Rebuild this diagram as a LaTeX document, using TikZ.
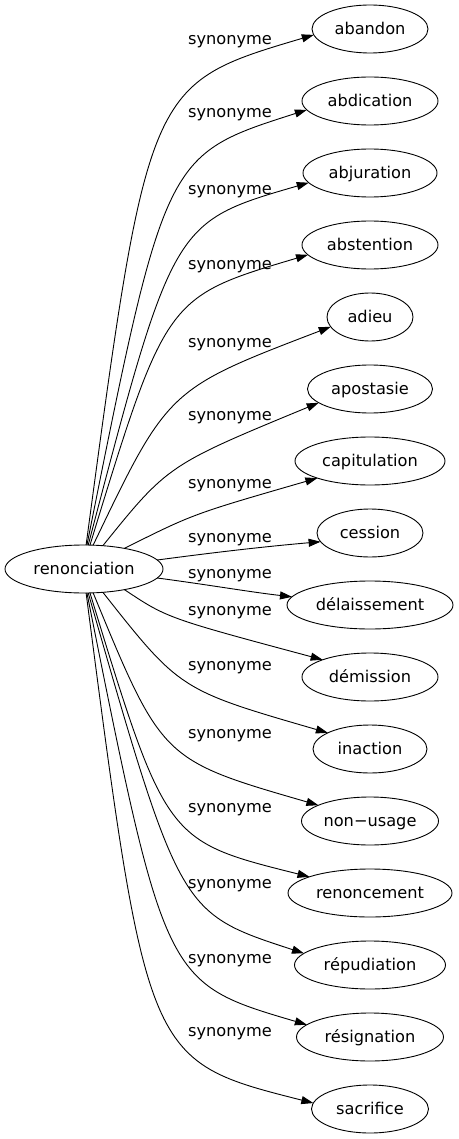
\documentclass[tikz,border=0pt]{standalone}
\usepackage{fontspec}
\setmainfont{DejaVu Sans}
\usetikzlibrary{shapes.geometric,arrows.meta}
\begin{document}
\begin{tikzpicture}[x=1pt,y=-1pt,
  word/.style={ellipse, draw, line width=0.9pt, inner sep=0pt, outer sep=0pt,
    minimum height=48pt, text height=11.5pt, text depth=0pt,
    font=\fontsize{16.2}{19}\selectfont},
  lbl/.style={inner sep=0pt, anchor=base, font=\fontsize{16.2}{19}\selectfont},
  syn/.style={line width=0.9pt, -{Triangle[length=12pt,width=8pt]}}]
\useasboundingbox (0,0) rectangle (458,1139);
% nodes
\node[word, minimum width=158pt] (ren) at (84,569) {renonciation};
\node[word, minimum width=116pt] (abandon) at (370,29) {abandon};
\node[word, minimum width=136pt] (abdication) at (370,101) {abdication};
\node[word, minimum width=134pt] (abjuration) at (370,173) {abjuration};
\node[word, minimum width=136pt] (abstention) at (370,245) {abstention};
\node[word, minimum width=86pt] (adieu) at (370,317) {adieu};
\node[word, minimum width=125pt] (apostasie) at (370,389) {apostasie};
\node[word, minimum width=150pt] (capitulation) at (370,461) {capitulation};
\node[word, minimum width=106pt] (cession) at (370,533) {cession};
\node[word, minimum width=166pt] (delaissement) at (370,605) {délaissement};
\node[word, minimum width=136pt] (demission) at (370,677) {démission};
\node[word, minimum width=114pt] (inaction) at (370,749) {inaction};
\node[word, minimum width=137pt] (nonusage) at (370,821) {non−usage};
\node[word, minimum width=164pt] (renoncement) at (370,893) {renoncement};
\node[word, minimum width=151pt] (repudiation) at (370,965) {répudiation};
\node[word, minimum width=147pt] (resignation) at (370,1037) {résignation};
\node[word, minimum width=117pt] (sacrifice) at (370,1109) {sacrifice};
% labels
\node[lbl] (l1) at (230,45) {synonyme};
\node[lbl] (l2) at (230,118) {synonyme};
\node[lbl] (l3) at (230,195) {synonyme};
\node[lbl] (l4) at (230,270) {synonyme};
\node[lbl] (l5) at (230,347) {synonyme};
\node[lbl] (l6) at (230,420) {synonyme};
\node[lbl] (l7) at (230,488) {synonyme};
\node[lbl] (l8) at (230,542) {synonyme};
\node[lbl] (l9) at (230,578) {synonyme};
\node[lbl] (l10) at (230,615) {synonyme};
\node[lbl] (l11) at (230,670) {synonyme};
\node[lbl] (l12) at (230,738) {synonyme};
\node[lbl] (l13) at (230,812) {synonyme};
\node[lbl] (l14) at (230,888) {synonyme};
\node[lbl] (l15) at (230,963) {synonyme};
\node[lbl] (l16) at (230,1036) {synonyme};
% edges
\draw[syn] (ren.85) .. controls (148,84) and (148,84) .. (abandon.186);
\draw[syn] (ren.83) .. controls (165,155) and (165,155) .. (abdication.188);
\draw[syn] (ren.80) .. controls (173,222) and (173,222) .. (abjuration.189);
\draw[syn] (ren.76) .. controls (166,297) and (166,297) .. (abstention.189);
\draw[syn] (ren.69) .. controls (168,389) and (168,389) .. (adieu.194);
\draw[syn] (ren.51) .. controls (168,465) and (168,465) .. (apostasie.195);
\draw[syn] (ren.27) .. controls (193,514) and (193,514) .. (capitulation.198);
\draw[syn] (ren.7) .. controls (210,553) and (260,547) .. (cession.190);
\draw[syn] (ren.-7) .. controls (210,585) and (250,592) .. (delaissement.174);
\draw[syn] (ren.-27) .. controls (167,618) and (167,618) .. (demission.160);
\draw[syn] (ren.-51) .. controls (180,690) and (180,690) .. (inaction.159);
\draw[syn] (ren.-69) .. controls (162,760) and (162,760) .. (nonusage.163);
\draw[syn] (ren.-76) .. controls (166,841) and (166,841) .. (renoncement.165);
\draw[syn] (ren.-80) .. controls (180,913) and (180,913) .. (repudiation.170);
\draw[syn] (ren.-83) .. controls (165,983) and (165,983) .. (resignation.169);
\draw[syn] (ren.-85) .. controls (147,1061) and (147,1061) .. (sacrifice.174);
\end{tikzpicture}
\end{document}
